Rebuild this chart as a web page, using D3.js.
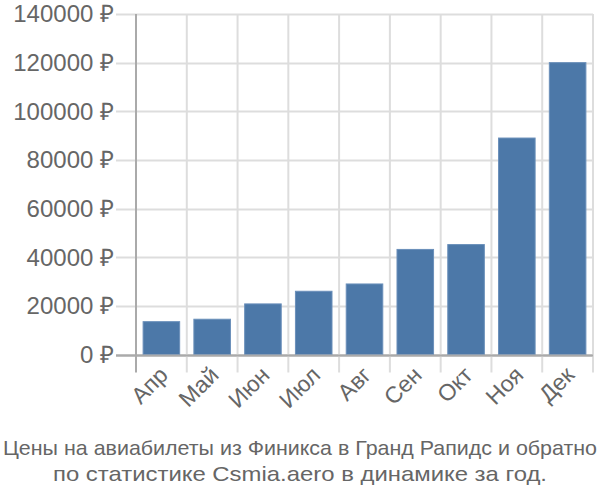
<!DOCTYPE html>
<html>
<head>
<meta charset="utf-8">
<script src="https://cdn.jsdelivr.net/npm/d3@7"></script>
<style>
  body { margin: 0; background: #fff; }
  text { font-family: "Liberation Sans", Arial, sans-serif; fill: #666; }
</style>
</head>
<body>
<script>
  // months and average prices in rubles
  var months = ["Апр", "Май", "Июн", "Июл", "Авг", "Сен", "Окт", "Ноя", "Дек"];
  var prices = [13500, 14500, 20800, 26000, 29000, 43200, 45200, 89000, 120000];
  var yTicks = [0, 20000, 40000, 60000, 80000, 100000, 120000, 140000];
  var titleLines = ["Цены на авиабилеты из Финикса в Гранд Рапидс и обратно",
                    "по статистике Csmia.aero в динамике за год."];
  var titleWidths = [594, 494];

  var width = 600, height = 500;
  var plotLeft = 136, plotRight = 593, plotTop = 14, plotBottom = 354.5;

  var svg = d3.select("body").append("svg")
      .attr("width", width)
      .attr("height", height);

  var x = d3.scaleBand()
      .domain(months)
      .range([plotLeft, plotRight])
      .paddingInner(0.28)
      .paddingOuter(0.14);

  var y = d3.scaleLinear()
      .domain([0, 140000])
      .range([plotBottom, plotTop]);

  // horizontal grid + left ticks
  svg.selectAll("line.hgrid")
     .data(yTicks)
     .enter()
     .append("line")
     .attr("x1", plotLeft - 20)
     .attr("x2", plotRight)
     .attr("y1", function(d) { return Math.round(y(d)) + 0.5; })
     .attr("y2", function(d) { return Math.round(y(d)) + 0.5; })
     .attr("stroke", function(d) { return d === 0 ? "#aaa" : "#ddd"; })
     .attr("stroke-width", 2);

  // vertical grid at band edges
  var step = x.step();
  var edges = d3.range(months.length + 1).map(function(i) { return plotLeft + i * step; });
  svg.selectAll("line.vgrid")
     .data(edges)
     .enter()
     .append("line")
     .attr("x1", function(d) { return d; })
     .attr("x2", function(d) { return d; })
     .attr("y1", plotTop)
     .attr("y2", plotBottom + 18)
     .attr("stroke", function(d, i) { return i === 0 ? "#aaa" : "#ddd"; })
     .attr("stroke-width", 2);

  // bars
  svg.selectAll("rect.bar")
     .data(prices)
     .enter()
     .append("rect")
     .attr("class", "bar")
     .attr("x", function(d, i) { return x(months[i]); })
     .attr("width", x.bandwidth())
     .attr("y", function(d) { return y(d); })
     .attr("height", function(d) { return y(0) - y(d); })
     .attr("fill", "#4c78a8")
     .attr("stroke", "#6a8fba")
     .attr("stroke-width", 1);

  // redraw zero line over the bars
  svg.append("line")
     .attr("x1", plotLeft - 20)
     .attr("x2", plotRight)
     .attr("y1", Math.round(y(0)) + 0.5)
     .attr("y2", Math.round(y(0)) + 0.5)
     .attr("stroke", "#aaa")
     .attr("stroke-width", 2);

  // y labels
  svg.selectAll("text.ylab")
     .data(yTicks)
     .enter()
     .append("text")
     .attr("x", plotLeft - 22)
     .attr("y", function(d) { return y(d); })
     .attr("dy", "0.35em")
     .attr("text-anchor", "end")
     .style("font-size", "24px")
     .text(function(d) { return d + " ₽"; });

  // x labels, rotated
  svg.selectAll("text.xlab")
     .data(months)
     .enter()
     .append("text")
     .attr("text-anchor", "end")
     .style("font-size", "23px")
     .attr("transform", function(d) {
       return "translate(" + (x(d) + x.bandwidth() / 2 + 8) + "," + (plotBottom + 22) + ")rotate(-45)";
     })
     .text(function(d) { return d; });

  // title, stretched to the reference line widths
  svg.selectAll("text.title")
     .data(titleLines)
     .enter()
     .append("text")
     .attr("x", width / 2)
     .attr("y", function(d, i) { return 455 + i * 26; })
     .attr("text-anchor", "middle")
     .attr("textLength", function(d, i) { return titleWidths[i]; })
     .attr("lengthAdjust", "spacingAndGlyphs")
     .style("font-size", "21px")
     .text(function(d) { return d; });
</script>
</body>
</html>
